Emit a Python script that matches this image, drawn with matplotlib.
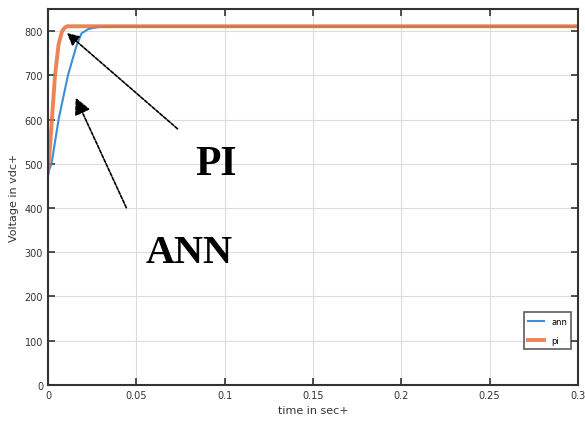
import matplotlib
matplotlib.use("Agg")
from matplotlib import pyplot as plt

t_ann = [0.0, 0.002, 0.006, 0.0113, 0.016, 0.019, 0.023, 0.028, 0.035, 0.05, 0.1, 0.2, 0.3]
v_ann = [480, 500, 600, 700, 765, 795, 805, 809, 810, 810, 810, 810, 810]
t_pi = [0.0, 0.001, 0.004, 0.006, 0.008, 0.0095, 0.011, 0.015, 0.05, 0.1, 0.2, 0.3]
v_pi = [480, 530, 700, 770, 800, 808, 811, 811, 811, 811, 811, 811]

xticks = [0, 0.05, 0.1, 0.15, 0.2, 0.25, 0.3]
xticklabels = ["0", "0.05", "0.1", "0.15", "0.2", "0.25", "0.3"]
yticks = [0, 100, 200, 300, 400, 500, 600, 700, 800]

fig = plt.figure(figsize=(5.85, 4.35), dpi=100)
ax = fig.add_axes([0.082, 0.113, 0.906, 0.864])

ax.plot(t_ann, v_ann, color="#3a8fd6", lw=1.5, label="ann")
ax.plot(t_pi, v_pi, color="#e8703a", lw=2.8, alpha=0.85, label="pi")

ax.set_xlim(0, 0.3)
ax.set_ylim(0, 850)
ax.set_xticks(xticks)
ax.set_xticklabels(xticklabels)
ax.set_yticks(yticks)
ax.grid(True, color="#dddddd", lw=0.8)
ax.tick_params(direction="in", top=True, right=True, labelsize=7, colors="#333333", length=5, width=1.2)
for s in ax.spines.values():
    s.set_linewidth(1.5)
    s.set_color("#333333")

ax.set_xlabel("time in sec+", fontsize=8, color="#333333")
ax.set_ylabel("Voltage in vdc+", fontsize=8, color="#333333", labelpad=4)

# arrows + labels
ax.annotate("", xy=(0.0095, 800), xytext=(0.0745, 575),
            arrowprops=dict(arrowstyle="-|>", color="black", lw=1.2, ls=(0, (2, 1)), mutation_scale=18))
ax.annotate("", xy=(0.015, 655), xytext=(0.045, 395),
            arrowprops=dict(arrowstyle="-|>", color="black", lw=1.2, ls=(0, (2, 1)), mutation_scale=25))
ax.text(0.095, 500, "PI", fontsize=30, fontweight="bold", family="Liberation Serif", ha="center", va="center")
ax.text(0.08, 300, "ANN", fontsize=29, fontweight="bold", family="Liberation Serif", ha="center", va="center")

leg = ax.legend(loc="lower right", bbox_to_anchor=(0.995, 0.085), fontsize=6, handlelength=2.0,
                frameon=True, fancybox=False, edgecolor="#333333", borderpad=0.5, labelspacing=1.2)
leg.get_frame().set_linewidth(1.2)

fig.savefig("out.png", dpi=100)
